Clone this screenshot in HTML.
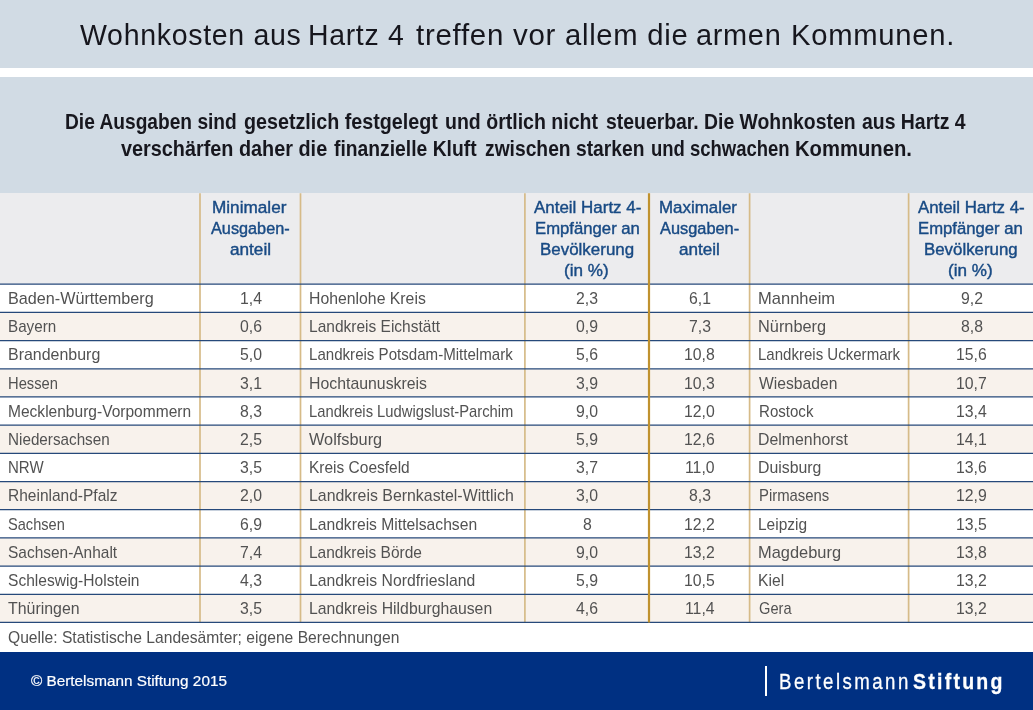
<!DOCTYPE html>
<html lang="de">
<head>
<meta charset="utf-8">
<title>Wohnkosten aus Hartz 4 treffen vor allem die armen Kommunen</title>
<style>
*{box-sizing:border-box;margin:0;padding:0}
html,body{width:1033px;height:710px;overflow:hidden;background:#fff}
body{font-family:"Liberation Sans",sans-serif;position:relative}
h1,p{font:inherit}
.band1{position:absolute;left:0;top:0;width:1033px;height:68px;background:#d1dbe4}
.band2{position:absolute;left:0;top:77px;width:1033px;height:116.2px;background:#d1dbe4}
.thead{position:absolute;left:0;top:193.2px;width:1033px;height:91px;background:#ececee}
.row{position:absolute;left:0;width:1033px;height:28.2px}
.row.od{background:#fff}
.row.ev{background:#f8f2ec}
.ln{position:absolute;left:0;top:0}
.foot{position:absolute;left:0;top:652.4px;width:1033px;height:58px;background:#003082}
.bar{position:absolute;left:765px;top:666px;width:2px;height:30px;background:#fff}
.x{position:absolute;white-space:nowrap;transform-origin:0 50%;display:block}
.t{color:#525252}
.ti{color:#16161d}
.su{color:#17171e}
.h{color:#184a84;-webkit-text-stroke:0.4px #184a84}
.c{color:#fff;-webkit-text-stroke:0.2px #fff}
.lg{color:#fff;-webkit-text-stroke:0.3px #fff}
</style>
</head>
<body>
<div class="band1"></div>
<div class="band2"></div>
<div class="thead"></div>
<div class="row od" style="top:284.0px"></div>
<div class="row ev" style="top:312.2px"></div>
<div class="row od" style="top:340.4px"></div>
<div class="row ev" style="top:368.6px"></div>
<div class="row od" style="top:396.8px"></div>
<div class="row ev" style="top:425.0px"></div>
<div class="row od" style="top:453.2px"></div>
<div class="row ev" style="top:481.4px"></div>
<div class="row od" style="top:509.6px"></div>
<div class="row ev" style="top:537.8px"></div>
<div class="row od" style="top:566.0px"></div>
<div class="row ev" style="top:594.2px"></div>
<svg class="ln" width="1033" height="710" viewBox="0 0 1033 710">
<line x1="200.0" y1="193.2" x2="200.0" y2="622.5" stroke="#d6bb88" stroke-width="1.7"/>
<line x1="300.5" y1="193.2" x2="300.5" y2="622.5" stroke="#d6bb88" stroke-width="1.7"/>
<line x1="524.9" y1="193.2" x2="524.9" y2="622.5" stroke="#d6bb88" stroke-width="1.7"/>
<line x1="749.6" y1="193.2" x2="749.6" y2="622.5" stroke="#d6bb88" stroke-width="1.7"/>
<line x1="908.6" y1="193.2" x2="908.6" y2="622.5" stroke="#d6bb88" stroke-width="1.7"/>
<line x1="0" y1="284.20" x2="1033" y2="284.20" stroke="#26497a" stroke-width="1.25"/>
<line x1="0" y1="312.39" x2="1033" y2="312.39" stroke="#26497a" stroke-width="1.25"/>
<line x1="0" y1="340.58" x2="1033" y2="340.58" stroke="#26497a" stroke-width="1.25"/>
<line x1="0" y1="368.77" x2="1033" y2="368.77" stroke="#26497a" stroke-width="1.25"/>
<line x1="0" y1="396.96" x2="1033" y2="396.96" stroke="#26497a" stroke-width="1.25"/>
<line x1="0" y1="425.15" x2="1033" y2="425.15" stroke="#26497a" stroke-width="1.25"/>
<line x1="0" y1="453.34" x2="1033" y2="453.34" stroke="#26497a" stroke-width="1.25"/>
<line x1="0" y1="481.53" x2="1033" y2="481.53" stroke="#26497a" stroke-width="1.25"/>
<line x1="0" y1="509.72" x2="1033" y2="509.72" stroke="#26497a" stroke-width="1.25"/>
<line x1="0" y1="537.91" x2="1033" y2="537.91" stroke="#26497a" stroke-width="1.25"/>
<line x1="0" y1="566.10" x2="1033" y2="566.10" stroke="#26497a" stroke-width="1.25"/>
<line x1="0" y1="594.29" x2="1033" y2="594.29" stroke="#26497a" stroke-width="1.25"/>
<line x1="0" y1="622.48" x2="1033" y2="622.48" stroke="#26497a" stroke-width="1.25"/>
<line x1="649.0" y1="193.2" x2="649.0" y2="622.5" stroke="#c0922f" stroke-width="2.2"/>
</svg>
<div class="foot"></div>
<div class="bar"></div>
<h1>
<span class="x ti" style="left:79.50px;top:16.90px;font-size:29.0px;line-height:36px;transform:scaleX(0.9831);letter-spacing:0.7px">Wohnkosten aus</span>
<span class="x ti" style="left:308.44px;top:16.90px;font-size:29.0px;line-height:36px;transform:scaleX(0.9797);letter-spacing:0.7px">Hartz 4</span>
<span class="x ti" style="left:416.00px;top:16.90px;font-size:29.0px;line-height:36px;transform:scaleX(1.0176);letter-spacing:0.7px">treffen vor</span>
<span class="x ti" style="left:565.49px;top:16.90px;font-size:29.0px;line-height:36px;transform:scaleX(1.0081);letter-spacing:0.7px">allem die</span>
<span class="x ti" style="left:696.30px;top:16.90px;font-size:29.0px;line-height:36px;transform:scaleX(0.9967);letter-spacing:0.7px">armen</span>
<span class="x ti" style="left:790.58px;top:16.90px;font-size:29.0px;line-height:36px;transform:scaleX(1.0082);letter-spacing:0.7px">Kommunen.</span>
</h1>
<p>
<span class="x su" style="left:64.64px;top:108.30px;font-size:22.3px;line-height:28px;transform:scaleX(0.8594);font-weight:700">Die Ausgaben sind</span>
<span class="x su" style="left:244.30px;top:108.30px;font-size:22.3px;line-height:28px;transform:scaleX(0.8836);font-weight:700">gesetzlich festgelegt</span>
<span class="x su" style="left:445.22px;top:108.30px;font-size:22.3px;line-height:28px;transform:scaleX(0.8759);font-weight:700">und örtlich nicht</span>
<span class="x su" style="left:605.70px;top:108.30px;font-size:22.3px;line-height:28px;transform:scaleX(0.8701);font-weight:700">steuerbar.</span>
<span class="x su" style="left:704.03px;top:108.30px;font-size:22.3px;line-height:28px;transform:scaleX(0.8694);font-weight:700">Die Wohnkosten</span>
<span class="x su" style="left:861.90px;top:108.30px;font-size:22.3px;line-height:28px;transform:scaleX(0.8707);font-weight:700">aus Hartz 4</span>
<span class="x su" style="left:121.20px;top:135.30px;font-size:22.3px;line-height:28px;transform:scaleX(0.8896);font-weight:700">verschärfen daher die</span>
<span class="x su" style="left:333.70px;top:135.30px;font-size:22.3px;line-height:28px;transform:scaleX(0.8655);font-weight:700">finanzielle Kluft</span>
<span class="x su" style="left:484.80px;top:135.30px;font-size:22.3px;line-height:28px;transform:scaleX(0.8635);font-weight:700">zwischen starken</span>
<span class="x su" style="left:650.87px;top:135.30px;font-size:22.3px;line-height:28px;transform:scaleX(0.8289);font-weight:700">und schwachen</span>
<span class="x su" style="left:795.09px;top:135.30px;font-size:22.3px;line-height:28px;transform:scaleX(0.9081);font-weight:700">Kommunen.</span>
</p>
<div class="head">
<span class="x h" style="left:212.14px;top:196.50px;font-size:16.3px;line-height:20px;transform:scaleX(1.0550)">Minimaler</span>
<span class="x h" style="left:211.10px;top:217.60px;font-size:16.3px;line-height:20px;transform:scaleX(0.9984)">Ausgaben-</span>
<span class="x h" style="left:229.90px;top:238.70px;font-size:16.3px;line-height:20px;transform:scaleX(1.0547)">anteil</span>
<span class="x h" style="left:533.90px;top:196.50px;font-size:16.3px;line-height:20px;transform:scaleX(1.0406)">Anteil Hartz 4-</span>
<span class="x h" style="left:534.57px;top:217.60px;font-size:16.3px;line-height:20px;transform:scaleX(1.0257)">Empfänger an</span>
<span class="x h" style="left:539.86px;top:238.70px;font-size:16.3px;line-height:20px;transform:scaleX(1.0401)">Bevölkerung</span>
<span class="x h" style="left:564.05px;top:259.50px;font-size:16.3px;line-height:20px;transform:scaleX(1.0488)">(in %)</span>
<span class="x h" style="left:659.16px;top:196.50px;font-size:16.3px;line-height:20px;transform:scaleX(1.0380)">Maximaler</span>
<span class="x h" style="left:660.20px;top:217.60px;font-size:16.3px;line-height:20px;transform:scaleX(1.0047)">Ausgaben-</span>
<span class="x h" style="left:678.80px;top:238.70px;font-size:16.3px;line-height:20px;transform:scaleX(1.0495)">anteil</span>
<span class="x h" style="left:917.60px;top:196.50px;font-size:16.3px;line-height:20px;transform:scaleX(1.0338)">Anteil Hartz 4-</span>
<span class="x h" style="left:918.28px;top:217.60px;font-size:16.3px;line-height:20px;transform:scaleX(1.0247)">Empfänger an</span>
<span class="x h" style="left:923.67px;top:238.70px;font-size:16.3px;line-height:20px;transform:scaleX(1.0344)">Bevölkerung</span>
<span class="x h" style="left:948.05px;top:259.50px;font-size:16.3px;line-height:20px;transform:scaleX(1.0488)">(in %)</span>
</div>
<div class="body">
<span class="x t" style="left:7.55px;top:288.00px;font-size:17.0px;line-height:21px;transform:scaleX(0.9518)">Baden-Württemberg</span>
<span class="x t" style="left:308.57px;top:288.00px;font-size:17.0px;line-height:21px;transform:scaleX(0.9292)">Hohenlohe Kreis</span>
<span class="x t" style="left:757.93px;top:288.00px;font-size:17.0px;line-height:21px;transform:scaleX(0.9717)">Mannheim</span>
<span class="x t" style="left:239.56px;top:288.00px;font-size:17.0px;line-height:21px;transform:scaleX(0.9300)">1,4</span>
<span class="x t" style="left:576.22px;top:288.00px;font-size:17.0px;line-height:21px;transform:scaleX(0.9300)">2,3</span>
<span class="x t" style="left:688.82px;top:288.00px;font-size:17.0px;line-height:21px;transform:scaleX(0.9300)">6,1</span>
<span class="x t" style="left:960.62px;top:288.00px;font-size:17.0px;line-height:21px;transform:scaleX(0.9300)">9,2</span>
<span class="x t" style="left:7.61px;top:316.20px;font-size:17.0px;line-height:21px;transform:scaleX(0.8949)">Bayern</span>
<span class="x t" style="left:308.59px;top:316.20px;font-size:17.0px;line-height:21px;transform:scaleX(0.9125)">Landkreis Eichstätt</span>
<span class="x t" style="left:757.94px;top:316.20px;font-size:17.0px;line-height:21px;transform:scaleX(0.9609)">Nürnberg</span>
<span class="x t" style="left:240.02px;top:316.20px;font-size:17.0px;line-height:21px;transform:scaleX(0.9300)">0,6</span>
<span class="x t" style="left:576.22px;top:316.20px;font-size:17.0px;line-height:21px;transform:scaleX(0.9300)">0,9</span>
<span class="x t" style="left:688.82px;top:316.20px;font-size:17.0px;line-height:21px;transform:scaleX(0.9300)">7,3</span>
<span class="x t" style="left:960.62px;top:316.20px;font-size:17.0px;line-height:21px;transform:scaleX(0.9300)">8,8</span>
<span class="x t" style="left:7.56px;top:344.40px;font-size:17.0px;line-height:21px;transform:scaleX(0.9386)">Brandenburg</span>
<span class="x t" style="left:308.61px;top:344.40px;font-size:17.0px;line-height:21px;transform:scaleX(0.8875)">Landkreis Potsdam-Mittelmark</span>
<span class="x t" style="left:758.02px;top:344.40px;font-size:17.0px;line-height:21px;transform:scaleX(0.8844)">Landkreis Uckermark</span>
<span class="x t" style="left:240.02px;top:344.40px;font-size:17.0px;line-height:21px;transform:scaleX(0.9300)">5,0</span>
<span class="x t" style="left:576.22px;top:344.40px;font-size:17.0px;line-height:21px;transform:scaleX(0.9300)">5,6</span>
<span class="x t" style="left:683.96px;top:344.40px;font-size:17.0px;line-height:21px;transform:scaleX(0.9300)">10,8</span>
<span class="x t" style="left:955.76px;top:344.40px;font-size:17.0px;line-height:21px;transform:scaleX(0.9300)">15,6</span>
<span class="x t" style="left:7.63px;top:372.60px;font-size:17.0px;line-height:21px;transform:scaleX(0.8668)">Hessen</span>
<span class="x t" style="left:308.57px;top:372.60px;font-size:17.0px;line-height:21px;transform:scaleX(0.9319)">Hochtaunuskreis</span>
<span class="x t" style="left:758.90px;top:372.60px;font-size:17.0px;line-height:21px;transform:scaleX(0.9220)">Wiesbaden</span>
<span class="x t" style="left:240.02px;top:372.60px;font-size:17.0px;line-height:21px;transform:scaleX(0.9300)">3,1</span>
<span class="x t" style="left:576.22px;top:372.60px;font-size:17.0px;line-height:21px;transform:scaleX(0.9300)">3,9</span>
<span class="x t" style="left:683.96px;top:372.60px;font-size:17.0px;line-height:21px;transform:scaleX(0.9300)">10,3</span>
<span class="x t" style="left:955.76px;top:372.60px;font-size:17.0px;line-height:21px;transform:scaleX(0.9300)">10,7</span>
<span class="x t" style="left:7.59px;top:400.80px;font-size:17.0px;line-height:21px;transform:scaleX(0.9142)">Mecklenburg-Vorpommern</span>
<span class="x t" style="left:308.63px;top:400.80px;font-size:17.0px;line-height:21px;transform:scaleX(0.8684)">Landkreis Ludwigslust-Parchim</span>
<span class="x t" style="left:758.51px;top:400.80px;font-size:17.0px;line-height:21px;transform:scaleX(0.8866)">Rostock</span>
<span class="x t" style="left:240.02px;top:400.80px;font-size:17.0px;line-height:21px;transform:scaleX(0.9300)">8,3</span>
<span class="x t" style="left:576.22px;top:400.80px;font-size:17.0px;line-height:21px;transform:scaleX(0.9300)">9,0</span>
<span class="x t" style="left:683.96px;top:400.80px;font-size:17.0px;line-height:21px;transform:scaleX(0.9300)">12,0</span>
<span class="x t" style="left:955.76px;top:400.80px;font-size:17.0px;line-height:21px;transform:scaleX(0.9300)">13,4</span>
<span class="x t" style="left:7.60px;top:429.00px;font-size:17.0px;line-height:21px;transform:scaleX(0.8969)">Niedersachsen</span>
<span class="x t" style="left:309.00px;top:429.00px;font-size:17.0px;line-height:21px;transform:scaleX(0.9596)">Wolfsburg</span>
<span class="x t" style="left:758.47px;top:429.00px;font-size:17.0px;line-height:21px;transform:scaleX(0.9326)">Delmenhorst</span>
<span class="x t" style="left:240.02px;top:429.00px;font-size:17.0px;line-height:21px;transform:scaleX(0.9300)">2,5</span>
<span class="x t" style="left:576.22px;top:429.00px;font-size:17.0px;line-height:21px;transform:scaleX(0.9300)">5,9</span>
<span class="x t" style="left:683.96px;top:429.00px;font-size:17.0px;line-height:21px;transform:scaleX(0.9300)">12,6</span>
<span class="x t" style="left:955.76px;top:429.00px;font-size:17.0px;line-height:21px;transform:scaleX(0.9300)">14,1</span>
<span class="x t" style="left:7.62px;top:457.20px;font-size:17.0px;line-height:21px;transform:scaleX(0.8842)">NRW</span>
<span class="x t" style="left:308.59px;top:457.20px;font-size:17.0px;line-height:21px;transform:scaleX(0.9111)">Kreis Coesfeld</span>
<span class="x t" style="left:758.47px;top:457.20px;font-size:17.0px;line-height:21px;transform:scaleX(0.9312)">Duisburg</span>
<span class="x t" style="left:240.02px;top:457.20px;font-size:17.0px;line-height:21px;transform:scaleX(0.9300)">3,5</span>
<span class="x t" style="left:576.22px;top:457.20px;font-size:17.0px;line-height:21px;transform:scaleX(0.9300)">3,7</span>
<span class="x t" style="left:684.55px;top:457.20px;font-size:17.0px;line-height:21px;transform:scaleX(0.9300)">11,0</span>
<span class="x t" style="left:955.76px;top:457.20px;font-size:17.0px;line-height:21px;transform:scaleX(0.9300)">13,6</span>
<span class="x t" style="left:7.59px;top:485.40px;font-size:17.0px;line-height:21px;transform:scaleX(0.9121)">Rheinland-Pfalz</span>
<span class="x t" style="left:308.57px;top:485.40px;font-size:17.0px;line-height:21px;transform:scaleX(0.9346)">Landkreis Bernkastel-Wittlich</span>
<span class="x t" style="left:758.52px;top:485.40px;font-size:17.0px;line-height:21px;transform:scaleX(0.8756)">Pirmasens</span>
<span class="x t" style="left:240.02px;top:485.40px;font-size:17.0px;line-height:21px;transform:scaleX(0.9300)">2,0</span>
<span class="x t" style="left:576.22px;top:485.40px;font-size:17.0px;line-height:21px;transform:scaleX(0.9300)">3,0</span>
<span class="x t" style="left:688.82px;top:485.40px;font-size:17.0px;line-height:21px;transform:scaleX(0.9300)">8,3</span>
<span class="x t" style="left:955.76px;top:485.40px;font-size:17.0px;line-height:21px;transform:scaleX(0.9300)">12,9</span>
<span class="x t" style="left:8.00px;top:513.60px;font-size:17.0px;line-height:21px;transform:scaleX(0.8584)">Sachsen</span>
<span class="x t" style="left:308.58px;top:513.60px;font-size:17.0px;line-height:21px;transform:scaleX(0.9220)">Landkreis Mittelsachsen</span>
<span class="x t" style="left:758.49px;top:513.60px;font-size:17.0px;line-height:21px;transform:scaleX(0.9100)">Leipzig</span>
<span class="x t" style="left:240.02px;top:513.60px;font-size:17.0px;line-height:21px;transform:scaleX(0.9300)">6,9</span>
<span class="x t" style="left:582.82px;top:513.60px;font-size:17.0px;line-height:21px;transform:scaleX(0.9300)">8</span>
<span class="x t" style="left:683.96px;top:513.60px;font-size:17.0px;line-height:21px;transform:scaleX(0.9300)">12,2</span>
<span class="x t" style="left:955.76px;top:513.60px;font-size:17.0px;line-height:21px;transform:scaleX(0.9300)">13,5</span>
<span class="x t" style="left:8.00px;top:541.80px;font-size:17.0px;line-height:21px;transform:scaleX(0.9094)">Sachsen-Anhalt</span>
<span class="x t" style="left:308.59px;top:541.80px;font-size:17.0px;line-height:21px;transform:scaleX(0.9122)">Landkreis Börde</span>
<span class="x t" style="left:758.43px;top:541.80px;font-size:17.0px;line-height:21px;transform:scaleX(0.9663)">Magdeburg</span>
<span class="x t" style="left:240.02px;top:541.80px;font-size:17.0px;line-height:21px;transform:scaleX(0.9300)">7,4</span>
<span class="x t" style="left:576.22px;top:541.80px;font-size:17.0px;line-height:21px;transform:scaleX(0.9300)">9,0</span>
<span class="x t" style="left:683.96px;top:541.80px;font-size:17.0px;line-height:21px;transform:scaleX(0.9300)">13,2</span>
<span class="x t" style="left:955.76px;top:541.80px;font-size:17.0px;line-height:21px;transform:scaleX(0.9300)">13,8</span>
<span class="x t" style="left:8.00px;top:570.00px;font-size:17.0px;line-height:21px;transform:scaleX(0.9158)">Schleswig-Holstein</span>
<span class="x t" style="left:308.57px;top:570.00px;font-size:17.0px;line-height:21px;transform:scaleX(0.9254)">Landkreis Nordfriesland</span>
<span class="x t" style="left:758.48px;top:570.00px;font-size:17.0px;line-height:21px;transform:scaleX(0.9221)">Kiel</span>
<span class="x t" style="left:240.02px;top:570.00px;font-size:17.0px;line-height:21px;transform:scaleX(0.9300)">4,3</span>
<span class="x t" style="left:576.22px;top:570.00px;font-size:17.0px;line-height:21px;transform:scaleX(0.9300)">5,9</span>
<span class="x t" style="left:683.96px;top:570.00px;font-size:17.0px;line-height:21px;transform:scaleX(0.9300)">10,5</span>
<span class="x t" style="left:955.76px;top:570.00px;font-size:17.0px;line-height:21px;transform:scaleX(0.9300)">13,2</span>
<span class="x t" style="left:8.00px;top:598.20px;font-size:17.0px;line-height:21px;transform:scaleX(0.9357)">Thüringen</span>
<span class="x t" style="left:308.57px;top:598.20px;font-size:17.0px;line-height:21px;transform:scaleX(0.9273)">Landkreis Hildburghausen</span>
<span class="x t" style="left:758.90px;top:598.20px;font-size:17.0px;line-height:21px;transform:scaleX(0.8607)">Gera</span>
<span class="x t" style="left:240.02px;top:598.20px;font-size:17.0px;line-height:21px;transform:scaleX(0.9300)">3,5</span>
<span class="x t" style="left:576.22px;top:598.20px;font-size:17.0px;line-height:21px;transform:scaleX(0.9300)">4,6</span>
<span class="x t" style="left:684.55px;top:598.20px;font-size:17.0px;line-height:21px;transform:scaleX(0.9300)">11,4</span>
<span class="x t" style="left:955.76px;top:598.20px;font-size:17.0px;line-height:21px;transform:scaleX(0.9300)">13,2</span>
<span class="x t" style="left:8.20px;top:627.30px;font-size:17.0px;line-height:21px;transform:scaleX(0.9204)">Quelle: Statistische Landesämter; eigene Berechnungen</span>
</div>
<div class="footer">
<span class="x c" style="left:31.20px;top:670.70px;font-size:15.5px;line-height:19px;transform:scaleX(0.9875)">© Bertelsmann Stiftung 2015</span>
<span class="x lg" style="left:778.68px;top:668.00px;font-size:22.6px;line-height:28px;transform:scaleX(0.8244);letter-spacing:3.0px">Bertelsmann</span>
<span class="x lg" style="left:912.50px;top:668.00px;font-size:22.6px;line-height:28px;transform:scaleX(0.8635);font-weight:700;letter-spacing:2.6px">Stiftung</span>
</div>
</body>
</html>
